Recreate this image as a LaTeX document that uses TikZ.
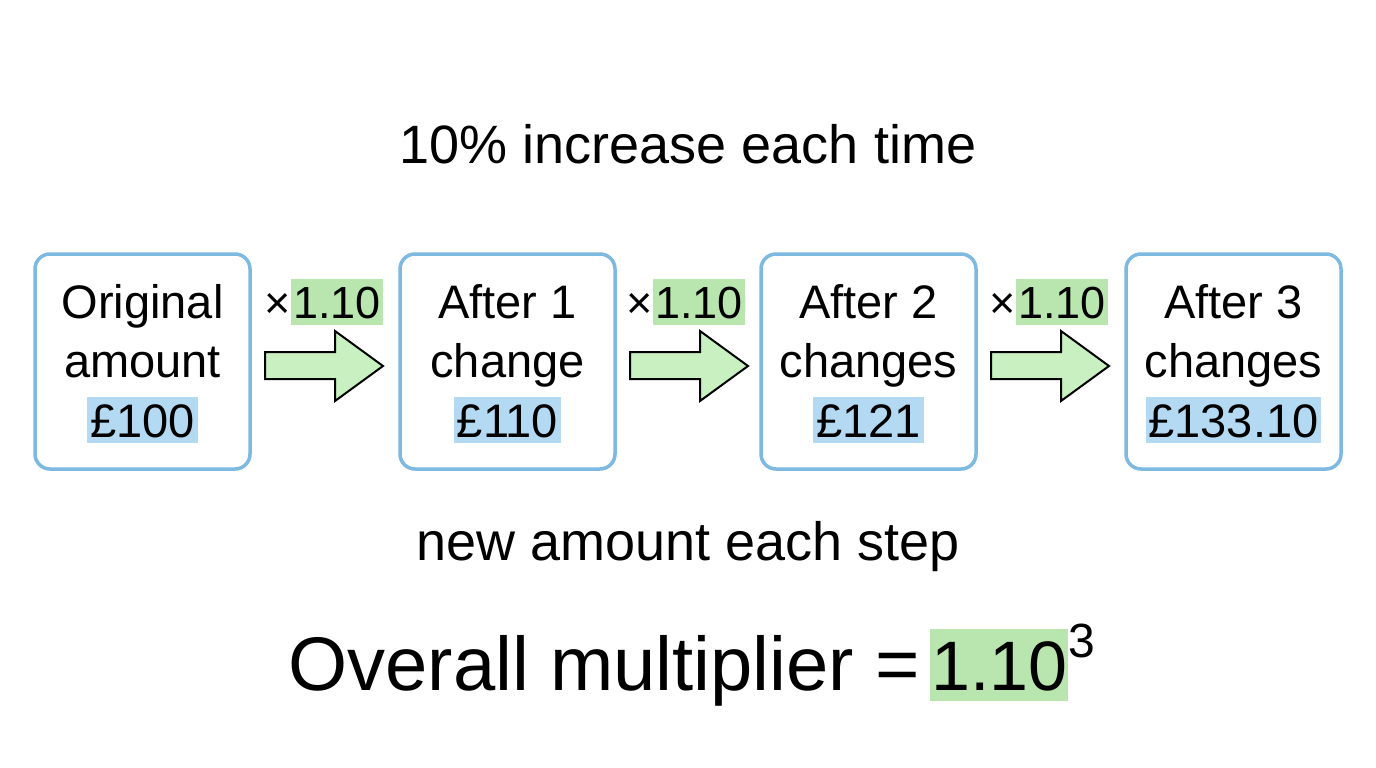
\documentclass[tikz,border=0pt]{standalone}
\usepackage{fontspec}
\setmainfont{Liberation Sans}
\definecolor{boxblue}{RGB}{125,185,225}
\definecolor{hlblue}{RGB}{180,218,243}
\definecolor{hlgreen}{RGB}{185,230,175}
\definecolor{arrowgreen}{RGB}{200,240,192}
\begin{document}
\begin{tikzpicture}[x=1pt,y=-1pt,
  stepbox/.style={draw=boxblue, line width=3.5pt, rounded corners=15pt,
    minimum width=215pt, minimum height=215pt, fill=white},
  txt/.style={font=\fontsize{47}{56}\selectfont, inner sep=0pt, anchor=base},
  bhl/.style={txt, fill=hlblue, inner xsep=3pt, inner ysep=6pt, text height=34pt, text depth=0pt},
  multx/.style={font=\fontsize{45}{52}\selectfont, inner sep=0pt, anchor=base east},
  ghl/.style={font=\fontsize{45}{52}\selectfont, fill=hlgreen, inner xsep=2pt, inner ysep=7pt,
    text height=32pt, text depth=0pt, anchor=base east},
  bigarrow/.style={draw=black, line width=2pt, fill=arrowgreen, line join=miter},
  heading/.style={font=\fontsize{54}{64}\selectfont, inner sep=0pt, anchor=base},
]
\useasboundingbox (0,0) rectangle (1376,768);

% title
\node[heading] (title) at (688,163) {10\% increase each time};

% boxes
\node[stepbox] (b1) at (142.5,361.5) {};
\node[stepbox] (b2) at (507.5,361.5) {};
\node[stepbox] (b3) at (868.5,361.5) {};
\node[stepbox] (b4) at (1233.5,361.5) {};

\node[txt] (b1l1) at (142.5,318) {Original};
\node[txt] (b1l2) at (142.5,377) {amount};
\node[bhl] (b1l3) at (142.5,437) {£100};

\node[txt] (b2l1) at (507.5,318) {After 1};
\node[txt] (b2l2) at (507.5,377) {change};
\node[bhl] (b2l3) at (507.5,437) {£110};

\node[txt] (b3l1) at (868.5,318) {After 2};
\node[txt] (b3l2) at (868.5,377) {changes};
\node[bhl] (b3l3) at (868.5,437) {£121};

\node[txt] (b4l1) at (1233.5,318) {After 3};
\node[txt] (b4l2) at (1233.5,377) {changes};
\node[bhl] (b4l3) at (1233.5,437) {£133.10};

% arrows
\foreach \L in {265,630,991}{
  \draw[bigarrow] (\L,352) -- (\L+70,352) -- (\L+70,331) -- (\L+118,366)
    -- (\L+70,401) -- (\L+70,379) -- (\L,379) -- cycle;
}

% multiplier labels
\node[ghl] (m1) at (383,318) {1.10};
\node[multx] (x1) at (m1.base west) {×};
\node[ghl] (m2) at (745,318) {1.10};
\node[multx] (x2) at (m2.base west) {×};
\node[ghl] (m3) at (1108,318) {1.10};
\node[multx] (x3) at (m3.base west) {×};

% bottom texts
\node[heading] (sub) at (688,560) {new amount each step};

\node[font=\fontsize{76}{90}\selectfont, inner sep=0pt, anchor=base east] (ov) at (920,690) {Overall multiplier =};
\node[font=\fontsize{70}{84}\selectfont, fill=hlgreen, inner xsep=1pt, inner ysep=9pt,
  text height=52pt, text depth=2pt, anchor=base west] (ovn) at (930,690) {1.10};
\node[font=\fontsize{48}{58}\selectfont, inner sep=0pt, anchor=base west] (ove) at ([xshift=0pt,yshift=33pt]ovn.base east) {3};
\end{tikzpicture}
\end{document}
